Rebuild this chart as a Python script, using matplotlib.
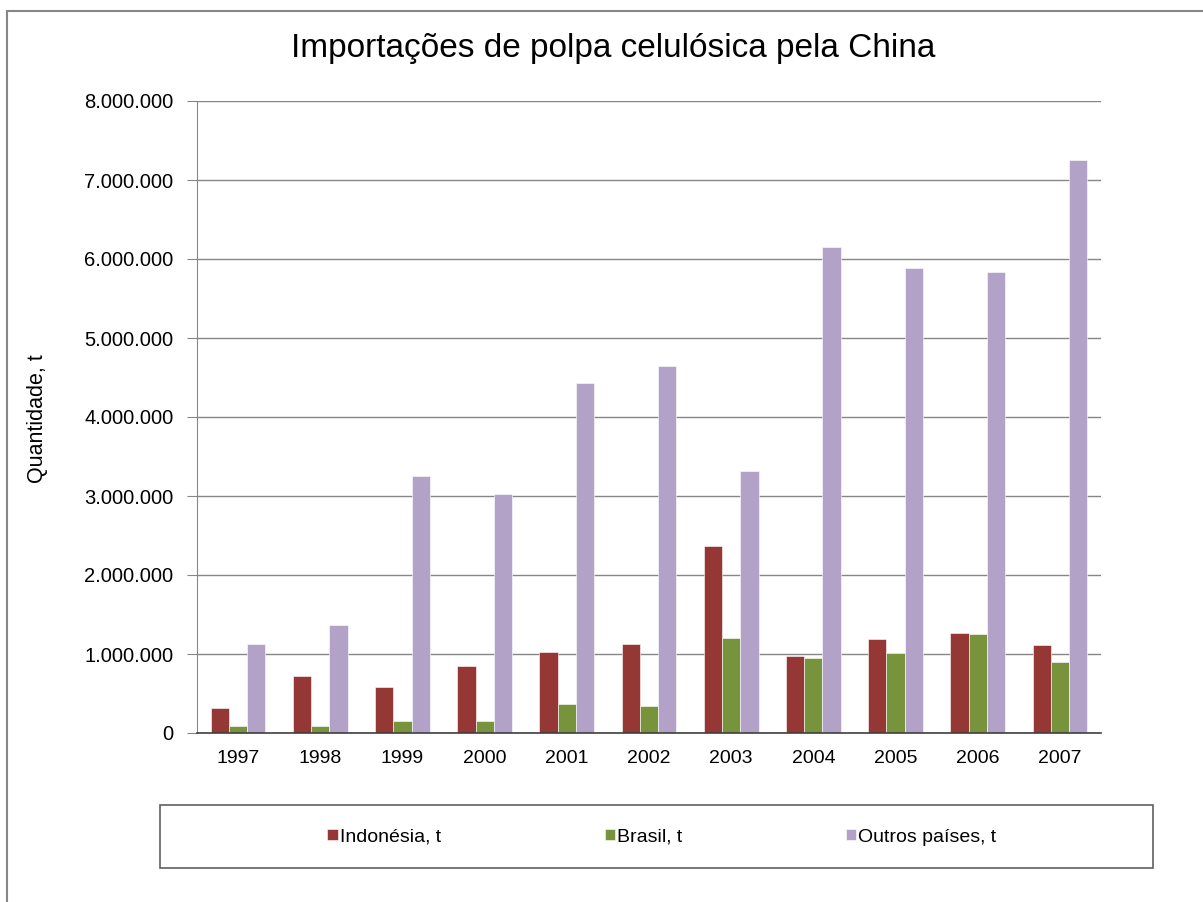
import matplotlib
matplotlib.use("Agg")
import matplotlib.pyplot as plt
import numpy as np
from matplotlib.patches import Rectangle
from matplotlib.ticker import FuncFormatter

plt.rcParams['font.family'] = ['Liberation Sans', 'DejaVu Sans']

years = ['1997', '1998', '1999', '2000', '2001', '2002', '2003', '2004', '2005', '2006', '2007']
indonesia = [320000, 717000, 578000, 844000, 1025000, 1127000, 2363000, 975000, 1194000, 1270000, 1118000]
brasil = [92000, 92000, 152000, 152000, 371000, 346000, 1206000, 949000, 1013000, 1253000, 899000]
outros = [1127000, 1371000, 3248000, 3029000, 4425000, 4646000, 3311000, 6156000, 5890000, 5835000, 7257000]
series_names = ['Indonésia, t', 'Brasil, t', 'Outros países, t']
colors = ['#953735', '#77933C', '#B3A2C7']
title = 'Importações de polpa celulósica pela China'
ylabel = 'Quantidade, t'

W, H = 1203, 902
fig = plt.figure(figsize=(W / 100, H / 100), dpi=100)

# outer chart border
fig.patches.append(Rectangle((7 / W, -0.05), 1.2, 1 - 11 / H + 0.05, transform=fig.transFigure,
                             fill=False, edgecolor='#868686', linewidth=1.5))

ax = fig.add_axes([197 / W, 1 - 733 / H, (1101 - 197) / W, (733 - 101) / H])
x = np.arange(len(years))
w = 1 / 4.5
for i, (vals, c, name) in enumerate(zip([indonesia, brasil, outros], colors, series_names)):
    ax.bar(x + (i - 1) * w, vals, width=w, color=c, edgecolor='#ffffff', linewidth=0.4,
           label=name, zorder=3)

ax.set_xlim(-0.5, len(years) - 0.5)
ax.set_ylim(0, 8000000)
ax.set_yticks(np.arange(0, 8000001, 1000000))
ax.yaxis.set_major_formatter(FuncFormatter(lambda v, p: f'{int(v):,}'.replace(',', '.')))
ax.set_xticks(x)
ax.set_xticklabels(years)
ax.tick_params(axis='x', which='major', length=0, pad=12, labelsize=14)
ax.tick_params(axis='y', length=7, color='#868686', pad=10, labelsize=14.5)
ax.grid(axis='y', color='#868686', linewidth=1, zorder=0)
for s in ['top', 'right']:
    ax.spines[s].set_visible(False)
ax.spines['left'].set_color('#868686')
ax.spines['bottom'].set_color('#404040')
ax.spines['bottom'].set_linewidth(1.2)
ax.spines['bottom'].set_zorder(4)

fig.text(613 / W, 1 - 49 / H, title, ha='center', va='center', fontsize=24)
fig.text(37 / W, 1 - 419 / H, ylabel, ha='center', va='center', rotation=90, fontsize=15.5)

# legend box
fig.patches.append(Rectangle((160 / W, 1 - 868 / H), (1153 - 160) / W, (868 - 805) / H,
                             transform=fig.transFigure, fill=False, edgecolor='#606060', linewidth=1.2))
handles, labels = ax.get_legend_handles_labels()
fig.legend(handles, labels, loc='center', bbox_to_anchor=(662 / W, 1 - 837 / H), ncol=3,
           frameon=False, fontsize=14, handlelength=0.55, handleheight=0.55, handletextpad=0.1,
           columnspacing=8.4)

fig.savefig('out.png', dpi=100)
